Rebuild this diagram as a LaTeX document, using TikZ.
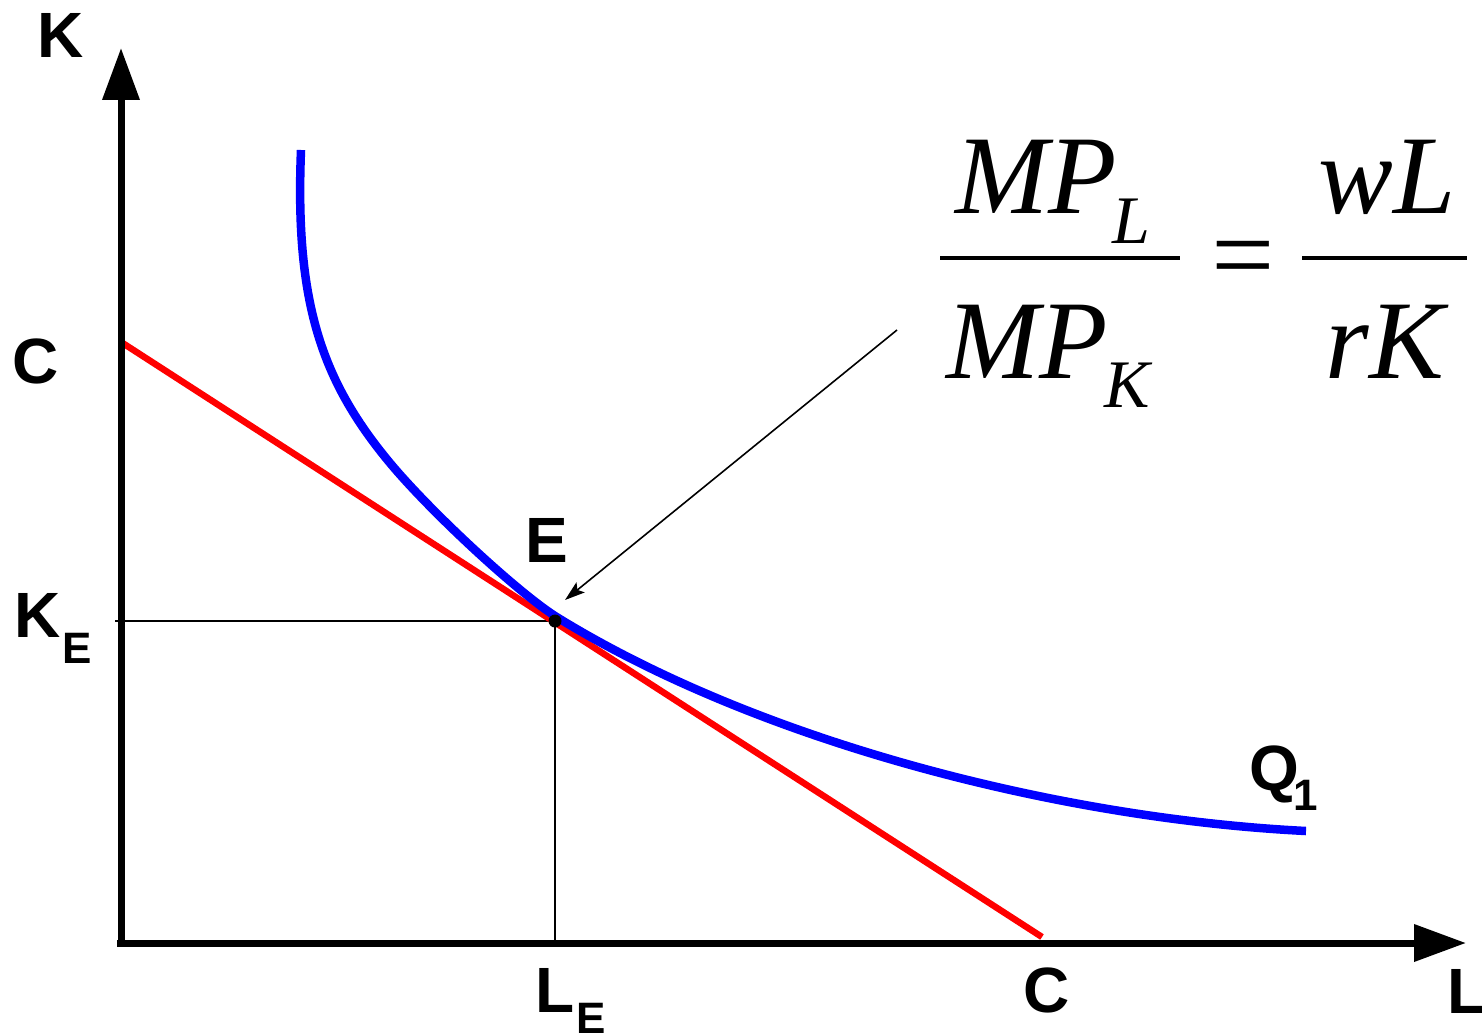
\documentclass[tikz,border=0pt]{standalone}
\usepackage{fontspec}
\setmainfont{Liberation Sans}
\newfontfamily\tms{Liberation Serif}
\usetikzlibrary{arrows.meta}
\definecolor{isoblue}{RGB}{0,0,255}
\definecolor{budred}{RGB}{255,0,0}
\begin{document}
\begin{tikzpicture}[x=1pt,y=-1pt,
  lbl/.style={font=\fontsize{64}{64}\selectfont\bfseries, inner sep=0pt, anchor=base west},
  sublbl/.style={font=\fontsize{44}{44}\selectfont\bfseries, inner sep=0pt, anchor=base west},
  frm/.style={font=\fontsize{112}{112}\selectfont\tms\itshape, inner sep=0pt, anchor=base west},
  frmsub/.style={font=\fontsize{68}{68}\selectfont\tms\itshape, inner sep=0pt, anchor=base west},
  axisline/.style={line width=7pt, -{Triangle[length=52pt,width=36pt]}},
  guide/.style={line width=2pt},
  budget/.style={line width=6.5pt, draw=budred},
  iso/.style={line width=8.5pt, draw=isoblue},
  fracbar/.style={line width=4pt},
  pointer/.style={line width=1.6pt, -{Stealth[length=20pt,width=13pt,inset=4pt]}}
]
\useasboundingbox (0,0) rectangle (1482,1035);
% coordinates
\coordinate (O) at (121,943);
\coordinate (Ytop) at (121,48);
\coordinate (Xright) at (1466,943);
\coordinate (Xstart) at (117,943);
\coordinate (Ctop) at (121,342);
\coordinate (Cbot) at (1042,937);
\coordinate (E) at (555,621);
\coordinate (KEtick) at (115,621);
\coordinate (LEfoot) at (555,943);
\coordinate (Qstart) at (301,150);
\coordinate (Qmid) at (390,463);
\coordinate (Qtouch) at (555,616);
\coordinate (Qend) at (1306,831);
\coordinate (Ptail) at (897,330);
\coordinate (Ptip) at (565,600);
% guide lines
\draw[guide] (KEtick) -- (E);
\draw[guide] (E) -- (LEfoot);
% budget line
\draw[budget] (Ctop) -- (Cbot);
% isoquant
\draw[iso] (Qstart) .. controls (295,300) and (320,379) .. (Qmid)
  .. controls (430,511) and (515,590) .. (Qtouch)
  .. controls (755,740) and (1056,818.5) .. (Qend);
% axes
\draw[axisline] (O) -- (Ytop);
\draw[axisline] (Xstart) -- (Xright);
% point E
\fill (E) circle (6.5pt);
% pointer
\draw[pointer] (Ptail) -- (Ptip);
% labels
\node[lbl] (lK) at (37,58) {K};
\node[lbl] (lC1) at (12,383) {C};
\node[lbl] (lKE) at (14,637) {K};
\node[sublbl] (lKEs) at (62,663) {E};
\node[lbl] (lE) at (525,562) {E};
\node[lbl] (lLE) at (535,1012) {L};
\node[sublbl] (lLEs) at (576,1033) {E};
\node[lbl, anchor=base] (lC2) at (1047,1012) {C};
\node[lbl] (lL) at (1447,1013) {L};
\node[lbl] (lQ) at (1249,790) {Q};
\node[sublbl] (lQs) at (1293,810) {1};
% formula
\node[frm] (nMP) at (955,213) {MP};
\node[frmsub] (nL) at (1112,243) {L};
\draw[fracbar] (940,258) -- (1180,258);
\node[frm] (dMP) at (946,378) {MP};
\node[frmsub] (dK) at (1104,407) {K};
\node[frm, anchor=base] (eq) at (1242,292) {=};
\node[frm, anchor=base] (nwL) at (1387,213) {wL};
\draw[fracbar] (1302,258) -- (1467,258);
\node[frm, anchor=base] (drK) at (1385,378) {rK};
\end{tikzpicture}
\end{document}
